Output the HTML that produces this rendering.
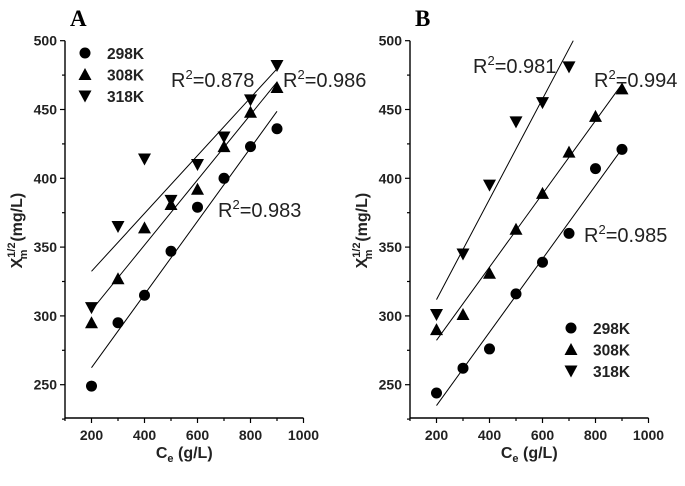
<!DOCTYPE html>
<html><head><meta charset="utf-8">
<style>
body{margin:0;background:#fff;}
svg{display:block;font-family:"Liberation Sans",Arial,sans-serif;}
.tk{font-size:14px;font-weight:bold;fill:#222;}
.ttl{font-size:16px;font-weight:bold;fill:#222;}
.r2{font-size:20px;fill:#222;}
.lg{font-size:15.5px;font-weight:bold;fill:#222;}
.pl{font-family:"Liberation Serif",serif;font-size:23px;font-weight:bold;}
</style></head>
<body>
<svg id="chart" width="685" height="486"></svg>
<script>
const xTicks=[200,400,600,800,1000];
const yTicks=[250,300,350,400,450,500];
const seriesNames=["298K","308K","318K"];
const aX=[200,300,400,500,600,700,800,900];
const a298=[249,295,315,347,379,400,423,436];
const a308=[295,327,364,381,392,423,448,466];
const a318=[306,365,414,384,410,430,457,482];
const bX298=[200,300,400,500,600,700,800,900];
const b298=[244,262,276,316,339,360,407,421];
const bX308=[200,300,400,500,600,700,800,900];
const b308=[290,301,331,363,389,419,445,465];
const bX318=[200,300,400,500,600,700];
const b318=[301,345,395,441,455,481];
const NS="http://www.w3.org/2000/svg";
const svg=document.getElementById('chart');
function el(t,a,p){const e=document.createElementNS(NS,t);for(const k in a)e.setAttribute(k,a[k]);(p||svg).appendChild(e);return e;}
function fit(xs,ys){const n=xs.length;let sx=0,sy=0,sxx=0,sxy=0;for(let i=0;i<n;i++){sx+=xs[i];sy+=ys[i];sxx+=xs[i]*xs[i];sxy+=xs[i]*ys[i];}const m=(n*sxy-sx*sy)/(n*sxx-sx*sx);return[m,(sy-m*sx)/n];}
function marker(g,kind,cx,cy){
 if(kind==0) return el('circle',{cx:cx,cy:cy,r:5.5,fill:'#000'},g);
 if(kind==1) return el('polygon',{points:`${cx},${cy-6.5} ${cx-6.5},${cy+5.5} ${cx+6.5},${cy+5.5}`,fill:'#000'},g);
 return el('polygon',{points:`${cx},${cy+6.5} ${cx-6.5},${cy-5.5} ${cx+6.5},${cy-5.5}`,fill:'#000'},g);
}
function panel(name,ox,letter,sets,r2s,legend){
 const g=el('g',{});
 
 
 const X=v=>ox+(v-100)*212/800, Y=v=>40.7+(500-v)*1.376;
 const yb=418;
 const t=el('text',{x:ox+5,y:26,class:'pl'},g);t.textContent=letter;
 
 const ax=el('path',{d:`M${ox},${Y(500)} V${yb} H${X(1000)}`,stroke:'#000','stroke-width':1.4,fill:'none'},g);
 
 for(let v=100;v<=1000;v+=100){el('line',{x1:X(v),x2:X(v),y1:yb,y2:yb+(v%200==0?5:3),stroke:'#000','stroke-width':1.2},g);}
 xTicks.forEach(v=>{const tt=el('text',{x:X(v),y:yb+22,'text-anchor':'middle',class:'tk'},g);tt.textContent=v;
  });
 for(let v=225;v<=500;v+=25){el('line',{x1:ox,x2:ox-(v%50==0?5:3),y1:Y(v),y2:Y(v),stroke:'#000','stroke-width':1.2},g);}
 yTicks.forEach(v=>{const tt=el('text',{x:ox-8,y:Y(v)+5,'text-anchor':'end',class:'tk'},g);tt.textContent=v;
  });
 const xt=el('text',{x:X(550),y:458,'text-anchor':'middle',class:'ttl'},g);
 xt.innerHTML='C<tspan font-size="11" dy="4">e</tspan><tspan dy="-4"> (g/L)</tspan>';
 
 const yt=el('text',{transform:`translate(${ox-43},${Y(362)}) rotate(-90)`,'text-anchor':'middle',class:'ttl'},g);
 yt.innerHTML='X<tspan font-size="11" dy="-7">1/2</tspan><tspan font-size="11" dy="12" dx="-17">m</tspan><tspan dy="-5" dx="8">(mg/L)</tspan>';
 
 sets.forEach((s,k)=>{
  const [m,b]=fit(s[0],s[1]);
  let x1=200,x2=900;
  if(m*x2+b>500)x2=(500-b)/m;
  const ln=el('line',{x1:X(x1),y1:Y(m*x1+b),x2:X(x2),y2:Y(m*x2+b),stroke:'#000','stroke-width':1},g);
  
  s[0].forEach((xv,i)=>{const mk=marker(g,k,X(xv),Y(s[1][i]));
   });
 });
 r2s.forEach(r=>{const tt=el('text',{x:r[0],y:r[1],class:'r2'},g);
  tt.innerHTML='R<tspan font-size="13" dy="-8">2</tspan><tspan dy="8">='+r[2]+'</tspan>';
  });
 seriesNames.forEach((n,k)=>{const yy=legend[1]+k*21.5;
  const mk=marker(g,k,legend[0],yy);
  const tt=el('text',{x:legend[0]+22,y:yy+6,class:'lg'},g);tt.textContent=n;
  });
}
panel('a',65,'A',[[aX,a298],[aX,a308],[aX,a318]],
 [[171,87,'0.878'],[283,87,'0.986'],[218,217,'0.983']],[85,53]);
panel('b',410,'B',[[bX298,b298],[bX308,b308],[bX318,b318]],
 [[473,73,'0.981'],[594,87,'0.994'],[584,242,'0.985']],[571,328]);
</script>
</body></html>
